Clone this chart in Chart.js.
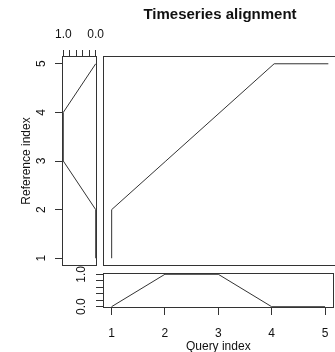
<!DOCTYPE html>
<html><head><meta charset="utf-8">
<script src="https://cdn.jsdelivr.net/npm/chart.js@4.4.1/dist/chart.umd.min.js"></script>
<style>
html,body{margin:0;padding:0;width:335px;height:352px;overflow:hidden;background:#fff;}
canvas{position:absolute;left:0;top:0;}
</style></head><body>
<canvas id="left" width="340" height="360"></canvas>
<canvas id="main" width="340" height="360"></canvas>
<canvas id="bottom" width="340" height="360"></canvas>
<script>
// ---- data ----
const queryIndex = [1, 2, 3, 4, 5];
const queryValues = [0, 1, 1, 0, 0];
const referenceIndex = [1, 2, 3, 4, 5];
const referenceValues = [0, 0, 1, 1, 0];
const pathQuery = [1, 1, 2, 3, 4, 5];
const pathReference = [1, 2, 3, 4, 5, 5];
const indexTicks = [1, 2, 3, 4, 5];
const valueTicks = [0, 0.2, 0.4, 0.6, 0.8, 1];
const valueTickLabels = ['0.0', '', '', '', '', '1.0'];
const titleText = 'Timeseries alignment';
const xTitle = 'Query index';
const yTitle = 'Reference index';

// ---- style / layout ----
Chart.defaults.font.family = "'Liberation Sans', Arial, Helvetica, sans-serif";
Chart.defaults.font.size = 12;
Chart.defaults.color = '#111';
Chart.defaults.animation = false;
Chart.defaults.responsive = false;
Chart.defaults.devicePixelRatio = 1;
Chart.defaults.plugins.legend.display = false;
Chart.defaults.plugins.tooltip.enabled = false;

const INK = '#333';
const W = 340, H = 360;
const MAIN = {left: 103, right: 337, top: 56, bottom: 266};
const SIDE = {left: 62, right: 97};
const LOW = {top: 273, bottom: 308};

function range(arr) {
  const mn = Math.min(...arr), mx = Math.max(...arr), p = (mx - mn) * 0.04;
  return {min: mn - p, max: mx + p};
}
function fixedTicks(values) { return scale => { scale.ticks = values.map(v => ({value: v})); }; }
function valueLabel(v) { const i = valueTicks.indexOf(v); return i < 0 ? '' : valueTickLabels[i]; }

const frame = {
  id: 'frame',
  afterDatasetsDraw(chart) {
    const a = chart.chartArea, c = chart.ctx;
    c.save();
    c.strokeStyle = INK;
    c.lineWidth = 1;
    c.strokeRect(Math.round(a.left) + 0.5, Math.round(a.top) + 0.5,
                 Math.round(a.right - a.left) - 1, Math.round(a.bottom - a.top) - 1);
    c.restore();
  }
};

const tickGrid = len => ({display: true, drawOnChartArea: false, drawTicks: true, tickLength: len, color: INK, lineWidth: 1});
const lineDs = pts => ({data: pts, showLine: true, borderColor: INK, borderWidth: 1, pointRadius: 0, tension: 0, fill: false});

const xr = range(queryIndex.concat(pathQuery));
const yr = range(referenceIndex.concat(pathReference));
const vr = range(valueTicks);

// left panel: reference series
new Chart(document.getElementById('left'), {
  type: 'scatter',
  data: {datasets: [lineDs(referenceIndex.map((r, i) => ({x: referenceValues[i], y: r})))]},
  options: {
    layout: {padding: {left: 0, top: 0, right: W - SIDE.right, bottom: H - MAIN.bottom}},
    scales: {
      x: {
        type: 'linear', position: 'top', reverse: true, min: vr.min, max: vr.max,
        afterBuildTicks: fixedTicks(valueTicks),
        afterFit: s => { s.height = MAIN.top; },
        ticks: {autoSkip: false, minRotation: 0, maxRotation: 0, padding: 8, callback: v => valueLabel(v)},
        grid: tickGrid(6), border: {display: false}
      },
      y: {
        type: 'linear', position: 'left', min: yr.min, max: yr.max,
        afterBuildTicks: fixedTicks(indexTicks),
        afterFit: s => { s.width = SIDE.left; },
        ticks: {autoSkip: false, minRotation: 90, maxRotation: 90, crossAlign: 'center', padding: 10, callback: v => String(v)},
        grid: tickGrid(7), border: {display: false},
        title: {display: true, text: yTitle, color: '#111', font: {size: 12}, padding: {top: 19.5, bottom: 0}}
      }
    }
  },
  plugins: [frame]
});

// main panel: warping path
new Chart(document.getElementById('main'), {
  type: 'scatter',
  data: {datasets: [lineDs(pathQuery.map((q, i) => ({x: q, y: pathReference[i]})))]},
  options: {
    layout: {padding: {left: MAIN.left, top: 0, right: W - MAIN.right, bottom: H - MAIN.bottom}},
    scales: {
      x: {type: 'linear', display: false, min: xr.min, max: xr.max},
      y: {type: 'linear', display: false, min: yr.min, max: yr.max}
    },
    plugins: {
      title: {display: true, text: titleText, fullSize: false, color: '#111',
              font: {size: 15, weight: 'bold'}, padding: {top: 6, bottom: 32}}
    }
  },
  plugins: [frame]
});

// bottom panel: query series
new Chart(document.getElementById('bottom'), {
  type: 'scatter',
  data: {datasets: [lineDs(queryIndex.map((q, i) => ({x: q, y: queryValues[i]})))]},
  options: {
    layout: {padding: {left: 0, top: LOW.top, right: W - MAIN.right, bottom: 0}},
    scales: {
      x: {
        type: 'linear', position: 'bottom', min: xr.min, max: xr.max,
        afterBuildTicks: fixedTicks(indexTicks),
        afterFit: s => { s.height = H - LOW.bottom; },
        ticks: {autoSkip: false, minRotation: 0, maxRotation: 0, padding: 11.5, callback: v => String(v)},
        grid: tickGrid(7), border: {display: false},
        title: {display: true, text: xTitle, color: '#111', font: {size: 12}, padding: {top: 0, bottom: 6}}
      },
      y: {
        type: 'linear', position: 'left', min: vr.min, max: vr.max,
        afterBuildTicks: fixedTicks(valueTicks),
        afterFit: s => { s.width = MAIN.left; },
        ticks: {autoSkip: false, minRotation: 90, maxRotation: 90, crossAlign: 'center', padding: 6, callback: v => valueLabel(v)},
        grid: tickGrid(7), border: {display: false}
      }
    }
  },
  plugins: [frame]
});
</script>
</body></html>
